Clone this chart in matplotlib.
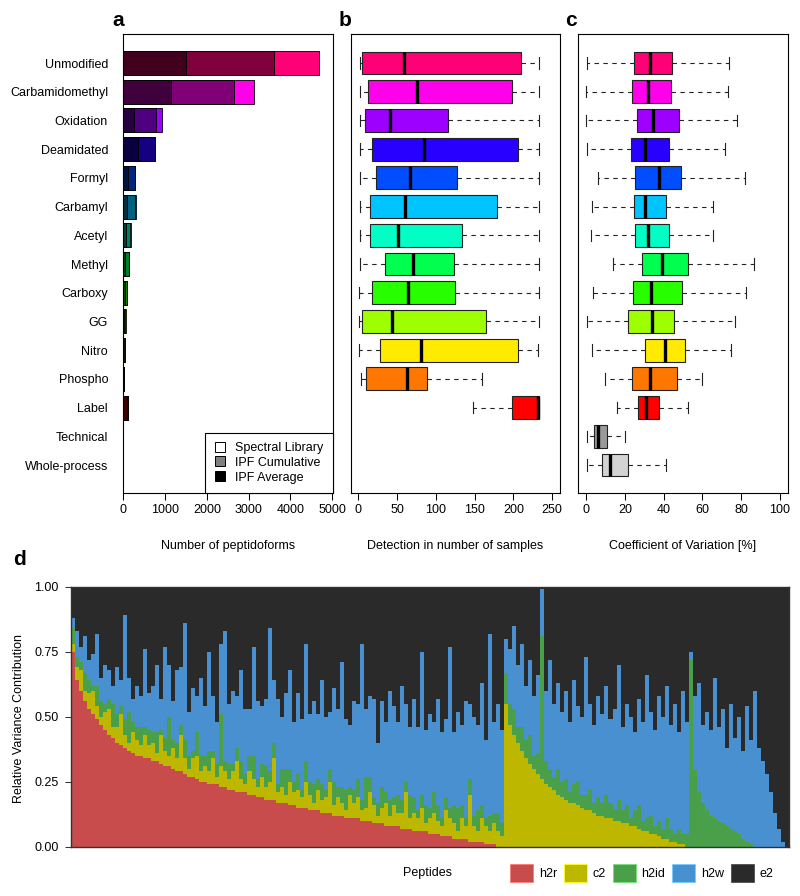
import matplotlib
matplotlib.use("Agg")
import matplotlib.pyplot as plt
import matplotlib.colors as mcolors
from matplotlib.patches import Patch
from matplotlib.lines import Line2D
import numpy as np

plt.rcParams["font.family"] = ["Liberation Sans", "DejaVu Sans"]
plt.rcParams["font.size"] = 9

# ---- panels a-c: modification classes ----
mods = ["Unmodified", "Carbamidomethyl", "Oxidation", "Deamidated", "Formyl",
        "Carbamyl", "Acetyl", "Methyl", "Carboxy", "GG", "Nitro", "Phospho",
        "Label", "Technical", "Whole-process"]
mod_colors = ["#FF0076", "#FF00EB", "#9D00FF", "#2700FF", "#004EFF", "#00C4FF",
              "#00FFC4", "#00FF4E", "#27FF00", "#9DFF00", "#FFEB00", "#FF7600",
              "#FF0000", "#9A9A9A", "#D3D3D3"]

# a: number of peptidoforms
n_library = [4690, 3140, 930, 770, 285, 295, 195, 130, 100, 55, 40, 25, 105, 0, 0]
n_ipf_cum = [3610, 2660, 780, 770, 280, 290, 150, 125, 95, 50, 35, 20, 105, 0, 0]
n_ipf_avg = [1500, 1150, 250, 350, 105, 90, 60, 35, 40, 20, 15, 8, 100, 0, 0]

# b: detection in number of samples (first 13 classes only)
det_lo = [2, 2, 2, 2, 2, 2, 2, 2, 1, 1, 1, 3, 148]
det_q1 = [5, 12, 8, 17, 23, 15, 15, 34, 17, 4, 28, 10, 198]
det_med = [59, 76, 41, 84, 67, 60, 51, 70, 64, 43, 81, 62, 231.5]
det_q3 = [210, 198, 115, 206, 127, 179, 134, 123, 125, 164, 206, 88, 233]
det_hi = [233, 233, 233, 233, 233, 233, 233, 233, 233, 233, 231, 160, 233]

# c: coefficient of variation [%]
cv_lo = [0.5, 0, 0, 0.3, 6, 3, 2.6, 14, 3.6, 0.3, 3, 10, 16, 0.3, 0.3]
cv_q1 = [24.7, 23.9, 26.4, 23.4, 25, 24.7, 25, 28.7, 24.2, 21.6, 30.4, 23.7, 26.8, 4.1, 8]
cv_med = [33, 32, 34.7, 30.6, 37.4, 30.6, 31.8, 39, 33.7, 34, 40.5, 32.8, 31, 6.2, 12.5]
cv_q3 = [44.5, 43.8, 48, 42.8, 49, 41, 43, 52.6, 49.5, 45.4, 50.8, 47, 37.4, 10.6, 21.4]
cv_hi = [73.7, 73, 78, 71.8, 82, 65.3, 65.3, 86.4, 82.6, 77, 74.5, 59.6, 52.4, 20.3, 41.4]

# ---- panel d: relative variance contribution per peptide [%] ----
h2r = [75, 64, 60, 56, 53, 51, 49, 47, 45, 43,
       42, 40, 39, 38, 37, 36, 35, 35, 34, 34,
       33, 33, 32, 31, 31, 30, 29, 29, 28, 27,
       27, 26, 25, 25, 24, 24, 24, 23, 23, 22,
       22, 21, 21, 21, 20, 20, 19, 19, 18, 18,
       18, 17, 17, 17, 16, 16, 15, 15, 15, 14,
       14, 14, 13, 13, 13, 12, 12, 12, 11, 11,
       11, 11, 10, 10, 10, 9, 9, 9, 8, 8,
       8, 8, 7, 7, 7, 6, 6, 6, 6, 5,
       5, 5, 4, 4, 4, 3, 3, 3, 3, 2,
       2, 2, 2, 1, 1, 1, 0, 0,
       0, 0, 0, 0, 0, 0, 0, 0, 0, 0, 0, 0, 0, 0, 0, 0, 0, 0, 0, 0, 0, 0, 0,
       0, 0, 0, 0, 0, 0, 0, 0, 0, 0, 0, 0, 0, 0, 0, 0, 0, 0, 0, 0, 0, 0, 0,
       0, 0, 0, 0, 0, 0, 0, 0, 0, 0, 0, 0, 0, 0, 0, 0,
       0, 0, 0, 0, 0, 0, 0, 0, 0]
c2 = [3, 5, 8, 4, 6, 9, 5, 3, 7, 10, 4, 6, 12, 5, 3, 8, 6, 4, 9, 5,
      7, 3, 11, 6, 4, 8, 5, 14, 6, 3, 7, 9, 4, 6, 5, 10, 3, 8, 6, 4,
      7, 12, 5, 3, 9, 6, 4, 8, 5, 7, 16, 4, 6, 3, 9, 5, 7, 4, 10, 6,
      3, 8, 5, 6, 12, 4, 7, 5, 3, 9, 6, 8, 4, 5, 11, 7, 3, 6, 9, 4,
      8, 5, 6, 14, 4, 7, 5, 9, 3, 6, 8, 5, 4, 10, 7, 6, 3, 8, 5, 18,
      6, 4, 9, 7, 5, 8, 6, 4,
      55, 47, 43, 40, 37, 34, 32, 30, 28, 26,
      24, 23, 22, 20, 19, 18, 17, 17, 16, 15,
      14, 14, 13, 12, 12, 11, 11, 10, 10, 9,
      9, 8, 8, 7, 6, 6, 5, 5, 4, 3,
      3, 2, 2, 1, 1, 0,
      0, 0, 0, 0, 0, 0, 0, 0, 0, 0, 0, 0, 0, 0, 0, 0,
      0, 0, 0, 0, 0, 0, 0, 0, 0]
h2id = [6, 4, 3, 7, 5, 2, 8, 6, 3, 4, 9, 5, 3, 6, 12, 4, 5, 7, 3, 6,
        4, 8, 2, 5, 15, 3, 6, 4, 7, 5, 3, 9, 6, 4, 8, 3, 5, 20, 4, 6,
        3, 5, 7, 4, 6, 9, 3, 5, 8, 4, 6, 3, 7, 10, 5, 4, 6, 3, 8, 5,
        7, 4, 6, 3, 5, 9, 4, 6, 8, 3, 5, 7, 4, 12, 6, 3, 5, 8, 4, 6,
        3, 7, 5, 4, 9, 6, 3, 5, 7, 4, 8, 6, 3, 5, 4, 7, 9, 5, 3, 6,
        4, 8, 5, 3, 6, 4, 7, 5,
        12, 8, 10, 6, 9, 7, 11, 5, 8, 55, 9, 7, 5, 10, 6, 8, 4, 7, 9, 5,
        6, 8, 4, 7, 5, 9, 6, 4, 8, 5, 7, 3, 6, 9, 4, 5, 7, 3, 6, 4,
        8, 5, 3, 6, 4, 5,
        72, 30, 21, 17, 14, 12, 11, 10, 9, 8, 7, 6, 5, 3, 2, 1,
        0, 0, 0, 0, 0, 0, 0, 0, 0]
h2w = [4, 10, 6, 14, 8, 12, 20, 9, 15, 11, 7, 18, 10, 40, 13, 9, 16, 12, 30, 14,
       18, 26, 12, 35, 20, 15, 28, 22, 45, 17, 24, 14, 30, 19, 38, 21, 16, 27, 50, 23,
       28, 20, 35, 25, 18, 42, 30, 22, 26, 55, 24, 33, 20, 29, 38, 23, 31, 27, 45, 26,
       32, 25, 40, 28, 22, 36, 30, 48, 27, 24, 34, 29, 60, 26, 31, 38, 23, 33, 27, 42,
       35, 28, 44, 30, 26, 38, 32, 55, 29, 36, 27, 41, 33, 30, 62, 28, 37, 31, 45, 29,
       38, 33, 47, 30, 70, 35, 42, 36,
       13, 21, 32, 24, 32, 21, 29, 23, 30, 18, 27, 42, 28, 33, 27, 34, 27, 40, 29, 30,
       53, 33, 30, 39, 34, 42, 32, 39, 52, 32, 39, 39, 30, 41, 38, 55, 40, 37, 48, 43,
       51, 40, 50, 37, 55, 43,
       3, 28, 42, 30, 38, 33, 54, 36, 44, 30, 48, 36, 45, 34, 52, 40,
       60, 38, 33, 28, 21, 13, 7, 2,
       0]
components = ["h2r", "c2", "h2id", "h2w", "e2"]
comp_colors = ["#C84C4C", "#BDB700", "#4AA04A", "#4890D0", "#2A2A2A"]


def shade(color, factor):
    r, g, b = mcolors.to_rgb(color)
    return (r * factor, g * factor, b * factor)


fig = plt.figure(figsize=(8, 8.96), dpi=100)
W, H = 800, 896


def px_axes(x0, y0, x1, y1):
    return fig.add_axes([x0 / W, 1 - y1 / H, (x1 - x0) / W, (y1 - y0) / H])


ax_a = px_axes(123.3, 34, 333, 493)
ax_b = px_axes(350.7, 34, 560, 493)
ax_c = px_axes(578.3, 34, 787.7, 493)
ax_d = px_axes(71, 586.7, 789, 846.7)

ypos = np.arange(len(mods))
for ax in (ax_a, ax_b, ax_c):
    ax.set_ylim(len(mods) - 1 + 0.975, -1.01)
    for s in ax.spines.values():
        s.set_linewidth(0.8)
    ax.tick_params(axis="x", direction="out", length=5, width=0.75, pad=3,
                   labelsize=9)

# panel a
for vals, fac in [(n_library, 1.0), (n_ipf_cum, 0.5), (n_ipf_avg, 0.25)]:
    ax_a.barh(ypos, vals, height=0.833,
              color=[shade(c, fac) for c in mod_colors],
              edgecolor="black", linewidth=0.6)
ax_a.set_xlim(0, 5020)
ax_a.set_xticks([0, 1000, 2000, 3000, 4000, 5000])
ax_a.set_yticks(ypos, mods)
ax_a.tick_params(axis="y", length=0, pad=11, labelsize=9)
leg_handles = [Line2D([], [], linestyle="none", marker="s", markersize=7,
                      markerfacecolor=c, markeredgecolor="black",
                      markeredgewidth=0.7)
               for c in ["white", "#808080", "black"]]
leg = ax_a.legend(leg_handles, ["Spectral Library", "IPF Cumulative", "IPF Average"],
                  loc="lower right", borderaxespad=0, fancybox=False,
                  edgecolor="black", framealpha=1, handlelength=1.0,
                  handletextpad=0.7, labelspacing=0.22, borderpad=0.75,
                  fontsize=9)
leg.get_frame().set_linewidth(0.8)


def draw_boxes(ax, lo, q1, med, q3, hi):
    stats = [dict(whislo=a, q1=b, med=m, q3=d, whishi=e, fliers=[])
             for a, b, m, d, e in zip(lo, q1, med, q3, hi)]
    parts = ax.bxp(stats, positions=ypos[:len(stats)], widths=0.8,
                   orientation="horizontal", patch_artist=True,
                   showfliers=False, manage_ticks=False, capwidths=0.4,
                   boxprops=dict(edgecolor="#222222", linewidth=0.8),
                   whiskerprops=dict(color="#222222", linewidth=0.8,
                                     linestyle=(0, (4, 4))),
                   capprops=dict(color="#222222", linewidth=0.8),
                   medianprops=dict(color="black", linewidth=2.4,
                                    solid_capstyle="butt"))
    for box, c in zip(parts["boxes"], mod_colors):
        box.set_facecolor(c)
    ax.set_yticks([])


draw_boxes(ax_b, det_lo, det_q1, det_med, det_q3, det_hi)
ax_b.set_xlim(-10, 260)
ax_b.set_xticks([0, 50, 100, 150, 200, 250])

draw_boxes(ax_c, cv_lo, cv_q1, cv_med, cv_q3, cv_hi)
ax_c.set_xlim(-4, 104)
ax_c.set_xticks([0, 20, 40, 60, 80, 100])

for ax, lab in [(ax_a, "Number of peptidoforms"),
                (ax_b, "Detection in number of samples"),
                (ax_c, "Coefficient of Variation [%]")]:
    ax.set_xlabel(lab, fontsize=9)
    ax.xaxis.set_label_coords(0.5, -0.103)

# panel d
series = [np.array(v, dtype=float) / 100 for v in (h2r, c2, h2id, h2w)]
series.append(1 - sum(series))
xs = np.arange(len(h2r))
bottom = np.zeros(len(xs))
for vals, col in zip(series, comp_colors):
    ax_d.bar(xs, vals, bottom=bottom, width=1.0, color=col, linewidth=0)
    bottom += vals
ax_d.set_facecolor(comp_colors[-1])
ax_d.set_xlim(-0.5, len(xs) - 0.5)
ax_d.set_ylim(0, 1)
ax_d.set_xticks([])
ax_d.set_yticks([0, 0.25, 0.5, 0.75, 1.0], ["0.00", "0.25", "0.50", "0.75", "1.00"])
ax_d.tick_params(axis="y", direction="out", length=4, width=0.75, pad=5,
                 labelsize=9, color="#333333")
for s in ax_d.spines.values():
    s.set_color("#333333")
    s.set_linewidth(1.0)
fig.text(18.7 / W, 1 - 718 / H, "Relative Variance Contribution",
         rotation=90, ha="center", va="center", fontsize=9)

fig.text(403 / W, 1 - 873 / H, "Peptides", ha="left", va="center", fontsize=9)
d_handles = [Patch(facecolor=c, edgecolor=mcolors.to_hex(
                 [min(1, v * 1.25 + 0.1) for v in mcolors.to_rgb(c)]),
                 linewidth=0.6)
             for c in comp_colors]
fig.legend(d_handles, components, loc="center left",
           bbox_to_anchor=(510 / W, 1 - 873 / H), ncol=5, frameon=False,
           handlelength=1.85, handleheight=1.9, handletextpad=0.45,
           columnspacing=0.55, borderpad=0, borderaxespad=0, fontsize=9)

# panel letters
for x, y, t in [(112, 20, "a"), (339, 20, "b"), (565, 20, "c"), (13, 559, "d")]:
    fig.text(x / W, 1 - y / H, t, fontsize=15, fontweight="bold",
             ha="left", va="center")

fig.savefig("out.png", dpi=100)
